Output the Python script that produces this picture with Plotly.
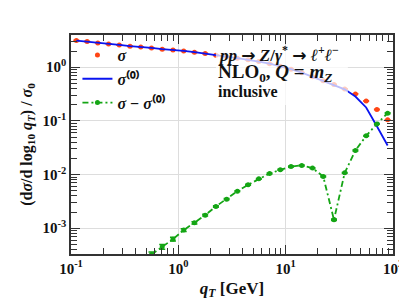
import numpy as np
import plotly.graph_objects as go

# bin centres (log10 qT)
log_qt = [-0.95, -0.85, -0.75, -0.65, -0.55, -0.45, -0.35, -0.25, -0.15, -0.05,
          0.05, 0.15, 0.25, 0.35, 0.45, 0.55, 0.65, 0.75, 0.85, 0.95,
          1.05, 1.15, 1.25, 1.35, 1.45, 1.55, 1.65, 1.75, 1.85, 1.95]

# log10 of sigma (full)
log_sigma = [0.497, 0.479, 0.453, 0.434, 0.415, 0.391, 0.378, 0.359, 0.335, 0.322,
             0.304, 0.279, 0.255, 0.223, 0.196, 0.168, 0.140, 0.106, 0.065, 0.019,
             -0.037, -0.102, -0.177, -0.250, -0.320, -0.405, -0.497, -0.628, -0.788, -0.981]

# log10 of sigma^(0)
log_sigma0 = [0.497, 0.479, 0.453, 0.434, 0.415, 0.391, 0.378, 0.359, 0.335, 0.322,
              0.304, 0.279, 0.255, 0.223, 0.196, 0.168, 0.140, 0.106, 0.065, 0.019,
              -0.037, -0.102, -0.177, -0.250, -0.322, -0.412, -0.546, -0.750, -1.100, -1.458]

# log10 of sigma - sigma^(0), starting at log qT = -0.25
log_qt_diff = [-0.25, -0.15, -0.05, 0.05, 0.15, 0.25, 0.35, 0.45, 0.55, 0.65, 0.75,
               0.85, 0.95, 1.05, 1.15, 1.25, 1.35, 1.45, 1.55, 1.65, 1.75, 1.85, 1.95]
log_diff = [-3.49, -3.346, -3.203, -3.035, -2.90, -2.756, -2.594, -2.458, -2.309, -2.19,
            -2.08, -1.98, -1.912, -1.85, -1.83, -1.88, -2.035, -2.843, -1.968, -1.55,
            -1.279, -1.056, -0.857]
rel_err_diff = [0.12, 0.10, 0.08, 0.06, 0.05, 0.04, 0.03, 0.03, 0.02, 0.02, 0.02,
                0.02, 0.02, 0.02, 0.02, 0.02, 0.02, 0.03, 0.02, 0.02, 0.02, 0.02, 0.02]

x_ticks = [0.1, 1, 10, 100]
x_ticktext = ["<b>10<sup>-1</sup></b>", "<b>10<sup>0</sup></b>", "<b>10<sup>1</sup></b>", "<b>10<sup>2</sup></b>"]
y_ticks = [1e-3, 1e-2, 1e-1, 1]
y_ticktext = ["<b>10<sup>-3</sup></b>", "<b>10<sup>-2</sup></b>", "<b>10<sup>-1</sup></b>", "<b>10<sup>0</sup></b>"]
minor_x = [m * 10.0 ** e for e in (-1, 0, 1) for m in range(2, 10)]
minor_y = [m * 10.0 ** e for e in (-4, -3, -2, -1, 0) for m in range(2, 10)]

qt = [10 ** v for v in log_qt]
sigma = [10 ** v for v in log_sigma]
sigma0 = [10 ** v for v in log_sigma0]
qt_d = [10 ** v for v in log_qt_diff]
diff = [10 ** v for v in log_diff]
diff_err = [d * e for d, e in zip(diff, rel_err_diff)]

RED = "#FF4515"
BLUE = "#0A14F0"
GREEN = "#14A514"
FONT = "Liberation Serif"
XR = [-1, 2]
YR = [-3.48, 0.6]
ARROW = "<span style='font-family:DejaVu Sans'>→</span>"

fig = go.Figure()
fig.add_trace(go.Scatter(
    x=qt, y=sigma, mode="markers", name="<b><i>σ</i></b>",
    marker=dict(color=RED, size=5),
    error_y=dict(type="percent", value=1.0, color=RED, thickness=1.5, width=3),
))
fig.add_trace(go.Scatter(
    x=qt, y=sigma0, mode="lines", name="<b><i>σ</i>⁽⁰⁾</b>",
    line=dict(color=BLUE, width=1.8),
))
fig.add_trace(go.Scatter(
    x=qt_d, y=diff, mode="lines+markers", name="<b><i>σ</i> − <i>σ</i>⁽⁰⁾</b>",
    line=dict(color=GREEN, width=1.8, dash="6px,3px,2px,3px"),
    marker=dict(color=GREEN, size=5),
    error_y=dict(type="data", array=diff_err, color=GREEN, thickness=1.5, width=3),
))
# invisible trace to carry the minor-tick axes
fig.add_trace(go.Scatter(x=[qt[0]], y=[sigma[0]], xaxis="x2", yaxis="y2", mode="markers",
                         marker=dict(opacity=0), showlegend=False, hoverinfo="skip"))

# white patch behind legend (hides grid lines only)
fig.add_shape(type="rect", xref="paper", yref="paper",
              x0=0.035, x1=0.32, y0=0.63, y1=0.93,
              fillcolor="white", line=dict(width=0), layer="below")

# semi-transparent box behind the process text
fig.add_shape(type="rect", xref="paper", yref="paper",
              x0=0.45, x1=0.86, y0=0.68, y1=0.95,
              fillcolor="rgba(255,255,255,0.72)", line=dict(width=0), layer="above")

fig.add_annotation(xref="paper", yref="paper", x=0.45, y=0.915, xanchor="left", yanchor="middle",
                   text=f"<b><i>pp</i> {ARROW} <i>Z</i>/<i>γ</i><sup>*</sup> {ARROW} <i>ℓ</i><sup>+</sup><i>ℓ</i><sup>−</sup></b>",
                   showarrow=False, font=dict(family=FONT, size=17, color="#111"))
fig.add_annotation(xref="paper", yref="paper", x=0.45, y=0.828, xanchor="left", yanchor="middle",
                   text="<b>NLO<sub>0</sub>, <i>Q</i> = <i>m<sub>Z</sub></i></b>",
                   showarrow=False, font=dict(family=FONT, size=19, color="#111"))
fig.add_annotation(xref="paper", yref="paper", x=0.45, y=0.742, xanchor="left", yanchor="middle",
                   text="<b>inclusive</b>",
                   showarrow=False, font=dict(family=FONT, size=16, color="#111"))

axis_common = dict(
    type="log", showline=True, linecolor="#333", linewidth=1.5, mirror="ticks",
    ticks="inside", ticklen=9, tickwidth=1.2, tickcolor="#333",
    showgrid=True, gridcolor="#dddddd", gridwidth=1, zeroline=False,
    tickfont=dict(family=FONT, size=15, color="#111"),
)

fig.update_layout(
    xaxis=dict(**axis_common, range=XR, tickvals=x_ticks, ticktext=x_ticktext,
               title=dict(text="<b><i>q<sub>T</sub></i> [GeV]</b>", font=dict(family=FONT, size=17, color="#111"), standoff=6)),
    yaxis=dict(**axis_common, range=YR, tickvals=y_ticks, ticktext=y_ticktext,
               title=dict(text="<b>(d<i>σ</i>/d log<sub>10</sub> <i>q<sub>T</sub></i>) / <i>σ</i><sub>0</sub></b>",
                          font=dict(family=FONT, size=16, color="#111"), standoff=6)),
    xaxis2=dict(type="log", range=XR, overlaying="x", anchor="y2", showline=True, linecolor="#333",
                linewidth=1.5, mirror="ticks", ticks="inside", ticklen=6, tickwidth=1.2, tickcolor="#333",
                tickmode="array", tickvals=minor_x, showticklabels=False, showgrid=False, zeroline=False),
    yaxis2=dict(type="log", range=YR, overlaying="y", anchor="x2", showline=True, linecolor="#333",
                linewidth=1.5, mirror="ticks", ticks="inside", ticklen=6, tickwidth=1.2, tickcolor="#333",
                tickmode="array", tickvals=minor_y, showticklabels=False, showgrid=False, zeroline=False),
    width=407, height=302,
    margin=dict(l=63, r=14, t=27, b=56),
    paper_bgcolor="white", plot_bgcolor="white",
    showlegend=True,
    legend=dict(x=0.02, y=0.986, xanchor="left", yanchor="top",
                bgcolor="rgba(0,0,0,0)", borderwidth=0,
                font=dict(family=FONT, size=16, color="#111"),
                tracegroupgap=0, itemwidth=30),
)

fig.write_html("out.html")
